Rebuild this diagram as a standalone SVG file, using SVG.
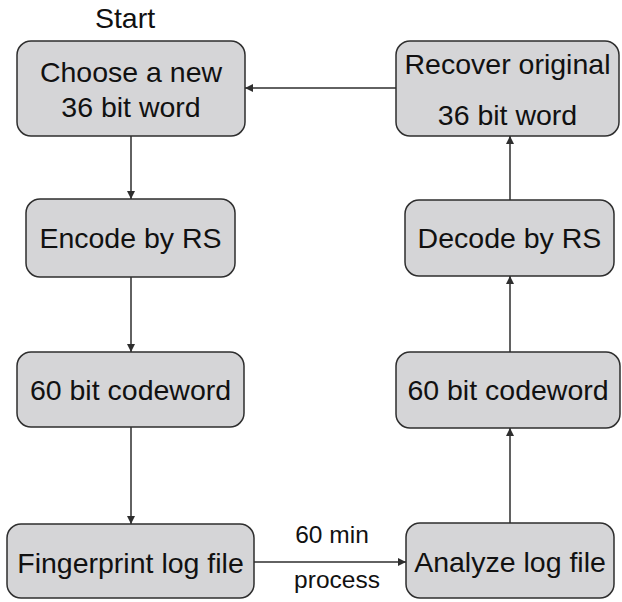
<svg xmlns="http://www.w3.org/2000/svg" width="622" height="602" viewBox="0 0 622 602">
<defs>
<style>
.box{fill:#d5d5d7;stroke:#2e2e2e;stroke-width:1.5}
.t{font-family:"Liberation Sans",Arial,sans-serif;font-size:28.5px;fill:#111;text-anchor:middle}
.e{font-family:"Liberation Sans",Arial,sans-serif;font-size:24.5px;fill:#111;text-anchor:middle}
.c{stroke:#2e2e2e;stroke-width:1.5;fill:none;marker-end:url(#ah)}
</style>
<marker id="ah" viewBox="0 0 10 10" refX="10" refY="5" markerWidth="8" markerHeight="8" markerUnits="userSpaceOnUse" orient="auto">
<path d="M0,0 L10,5 L0,10 z" fill="#2e2e2e"/>
</marker>
</defs>
<text class="t" x="125" y="28">Start</text>
<g id="connectors">
<line class="c" x1="131" y1="136" x2="131" y2="199"/>
<line class="c" x1="131" y1="277" x2="131" y2="352"/>
<line class="c" x1="131" y1="427" x2="131" y2="524"/>
<line class="c" x1="254" y1="562" x2="406" y2="562"/>
<line class="c" x1="510" y1="523" x2="510" y2="428"/>
<line class="c" x1="510" y1="352" x2="510" y2="276"/>
<line class="c" x1="510" y1="200" x2="510" y2="136"/>
<line class="c" x1="396" y1="88" x2="245" y2="88"/>
<text class="e" x="332" y="543">60 min</text>
<text class="e" x="337" y="588">process</text>
</g>
<g id="choose">
<rect class="box" x="17" y="41" width="228" height="95" rx="14"/>
<text class="t" x="131" y="82">Choose a new</text>
<text class="t" x="131" y="117">36 bit word</text>
</g>
<g id="encode">
<rect class="box" x="26" y="199" width="209" height="78" rx="14"/>
<text class="t" x="130.5" y="248">Encode by RS</text>
</g>
<g id="codeword-left">
<rect class="box" x="17" y="352" width="227" height="75" rx="14"/>
<text class="t" x="130.5" y="400">60 bit codeword</text>
</g>
<g id="fingerprint">
<rect class="box" x="7" y="524" width="247" height="74" rx="14"/>
<text class="t" x="130.5" y="573">Fingerprint log file</text>
</g>
<g id="analyze">
<rect class="box" x="406" y="523" width="208" height="75" rx="14"/>
<text class="t" x="510" y="572">Analyze log file</text>
</g>
<g id="codeword-right">
<rect class="box" x="396" y="352" width="224" height="76" rx="14"/>
<text class="t" x="508" y="400">60 bit codeword</text>
</g>
<g id="decode">
<rect class="box" x="405" y="200" width="209" height="76" rx="14"/>
<text class="t" x="509.5" y="248">Decode by RS</text>
</g>
<g id="recover">
<rect class="box" x="396" y="41" width="223" height="95" rx="14"/>
<text class="t" x="507.5" y="74">Recover original</text>
<text class="t" x="507.5" y="125">36 bit word</text>
</g>
</svg>
